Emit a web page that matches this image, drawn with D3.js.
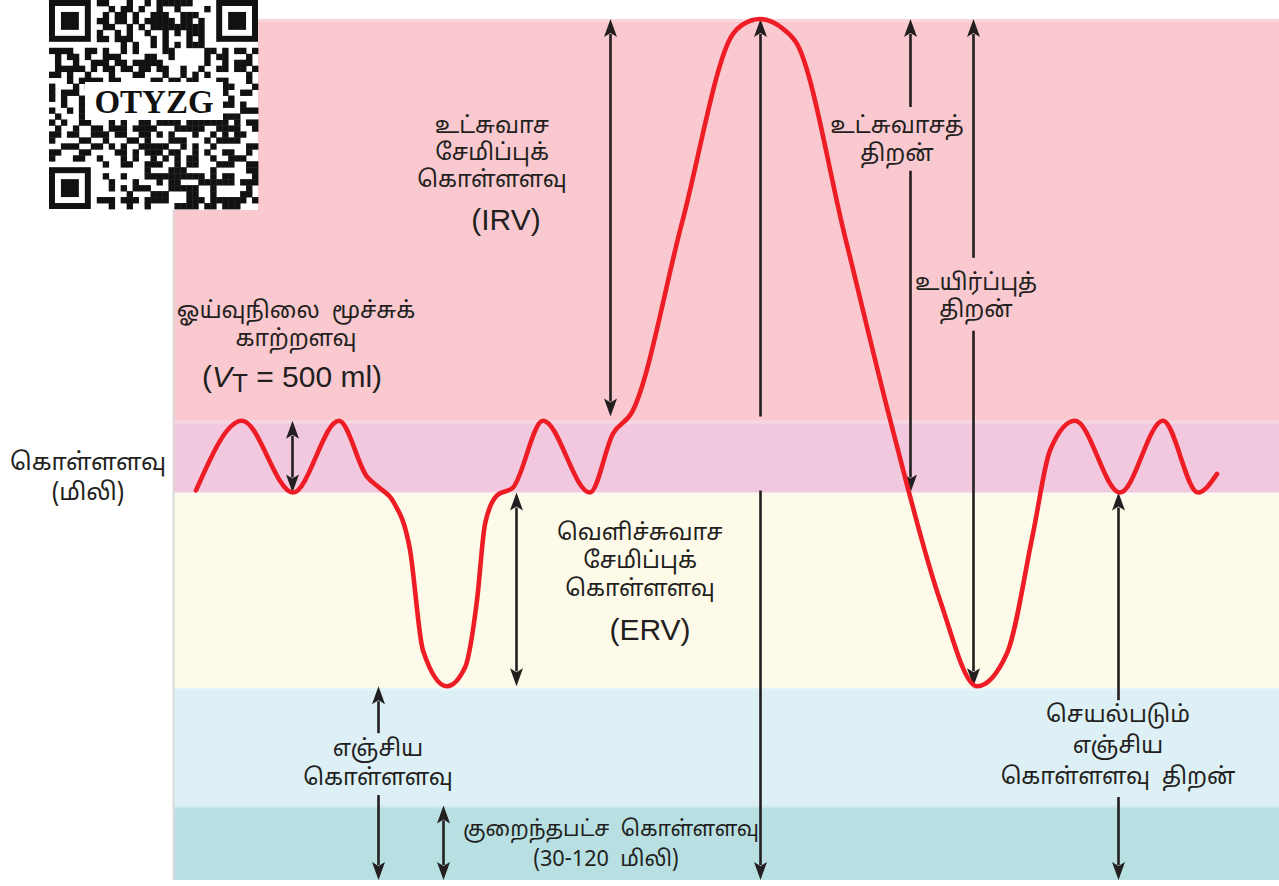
<!DOCTYPE html>
<html>
<head>
<meta charset="utf-8">
<script src="https://cdn.jsdelivr.net/npm/d3@7"></script>
<style>
  body { margin: 0; background: #fff; }
  svg { display: block; }
  text { white-space: pre; }
  .ta { font-family: "Noto Sans Tamil", "Lohit Tamil", "Noto Sans", sans-serif; fill: #231f20; }
  .la { font-family: "Liberation Sans", Arial, sans-serif; fill: #231f20; }
</style>
</head>
<body>
<svg id="chart" width="1279" height="886"></svg>
<script>
// Lung volume bands (ml), bottom to top
const bandEdges  = [0, 520, 1340, 2700, 3200, 6000];
const bandColors = ["#b8e0e3", "#dcf0f6", "#fdfaea", "#f1c8dd", "#f9c9cf"];

// Spirometer trace: time (s) and lung volume (ml)
const traceTime   = [0.46, 1.38, 2.40, 3.32, 3.88, 4.14, 4.40, 4.74, 5.00, 5.48, 5.84, 6.08, 6.24, 6.48, 6.80,
                     7.40, 8.34, 8.80, 9.18, 10.18, 11.20, 11.38, 11.74, 12.18, 12.48, 13.44, 14.40, 15.34,
                     16.08, 16.68, 17.20, 17.54, 18.04, 18.94, 19.80, 20.50, 20.88];
const traceVolume = [2715, 3200, 2700, 3200, 2810, 2730, 2640, 2300, 1600, 1350, 1480, 1950, 2480, 2680, 2735,
                     3200, 2700, 3110, 3260, 4580, 5896, 5958, 6000, 5937, 5826, 4483, 3130, 1950,
                     1350, 1580, 2415, 2993, 3200, 2700, 3200, 2700, 2830];

// Volume markers: time position, volume span, arrowheads, label gap (ml)
const arrowTime   = [2.38, 8.74, 11.74, 11.74, 14.74, 16.00, 6.86, 4.10, 5.40, 18.90];
const arrowFrom   = [2700, 3230, 3230, 2715, 2700, 1350, 1350, 0, 0, 0];
const arrowTo     = [3200, 6000, 6000, 0, 6000, 6000, 2700, 1350, 520, 2700];
const arrowHeads  = ["both", "both", "end", "end", "both", "both", "both", "both", "both", "both"];
const arrowGaps   = [null, null, null, null, [4942, 5387], [3828, 4336], null, [592, 1023], null, [578, 1253]];

// Label texts
const axisLabel   = ["கொள்ளளவு", "(மிலி)"];
const tidalLabel  = ["ஓய்வுநிலை  மூச்சுக்", "காற்றளவு"];
const irvLabel    = ["உட்சுவாச", "சேமிப்புக்", "கொள்ளளவு", "(IRV)"];
const ervLabel    = ["வெளிச்சுவாச", "சேமிப்புக்", "கொள்ளளவு", "(ERV)"];
const icLabel     = ["உட்சுவாசத்", "திறன்"];
const vcLabel     = ["உயிர்ப்புத்", "திறன்"];
const rvLabel     = ["எஞ்சிய", "கொள்ளளவு"];
const minLabel    = ["குறைந்தபட்ச  கொள்ளளவு", "(30-120  மிலி)"];
const frcLabel    = ["செயல்படும்", "எஞ்சிய", "கொள்ளளவு  திறன்"];
const codeLabel   = "OTYZG";

const svg = d3.select("#chart");
const x = d3.scaleLinear().domain([0, 22.12]).range([173, 1279]);
const y = d3.scaleLinear().domain([0, 6000]).range([880, 19]);

// Background bands
svg.append("g").selectAll("rect")
  .data(d3.range(bandColors.length))
  .join("rect")
  .attr("x", x(0)).attr("width", x(22.12) - x(0))
  .attr("y", i => y(bandEdges[i + 1]))
  .attr("height", i => y(bandEdges[i]) - y(bandEdges[i + 1]))
  .attr("fill", i => bandColors[i]);

// soft light edge at the top of each band
svg.append("g").selectAll("rect")
  .data(d3.range(bandColors.length))
  .join("rect")
  .attr("x", x(0)).attr("width", x(22.12) - x(0))
  .attr("y", i => y(bandEdges[i + 1]))
  .attr("height", 3)
  .attr("fill", "#fff").attr("opacity", 0.25);

svg.append("line")
  .attr("x1", x(0) + 0.5).attr("x2", x(0) + 0.5)
  .attr("y1", y(6000)).attr("y2", y(0))
  .attr("stroke", "#dedada").attr("stroke-width", 2);

// Arrows
const ink = "#231f20";
const headLen = 18, headHalf = 6.5, notch = 4;
const arrowG = svg.append("g");
function head(px, py, dir) {
  // dir: -1 pointing up, +1 pointing down
  const b = py - dir * headLen, n = py - dir * (headLen - notch);
  arrowG.append("path")
    .attr("d", `M${px},${py}L${px - headHalf},${b}L${px},${n}L${px + headHalf},${b}Z`)
    .attr("fill", ink);
}
function seg(px, y1, y2) {
  arrowG.append("line")
    .attr("x1", px).attr("x2", px).attr("y1", y1).attr("y2", y2)
    .attr("stroke", ink).attr("stroke-width", 2.6);
}
arrowTime.forEach((t, i) => {
  const px = Math.round(x(t)) + 0.5;
  const a = y(arrowFrom[i]), b = y(arrowTo[i]);
  const dirB = b < a ? -1 : 1;          // direction from 'from' to 'to'
  const hs = arrowHeads[i] === "both";
  const startY = hs ? a + dirB * (headLen - 3) : a;
  const endY = b - dirB * (headLen - 3);
  if (arrowGaps[i]) {
    const g0 = y(arrowGaps[i][0]), g1 = y(arrowGaps[i][1]);
    const near = dirB < 0 ? Math.max(g0, g1) : Math.min(g0, g1);
    const far = dirB < 0 ? Math.min(g0, g1) : Math.max(g0, g1);
    seg(px, startY, near);
    seg(px, far, endY);
  } else {
    seg(px, startY, endY);
  }
  if (hs) head(px, a, -dirB);
  head(px, b, dirB);
});

// Trace
const line = d3.line()
  .x(d => x(d[0])).y(d => y(d[1]))
  .curve(d3.curveMonotoneX);
svg.append("path")
  .datum(d3.zip(traceTime, traceVolume))
  .attr("d", line)
  .attr("fill", "none")
  .attr("stroke", "#ee1d25")
  .attr("stroke-width", 4.6)
  .attr("stroke-linecap", "round")
  .attr("stroke-linejoin", "round");

// Labels
const lab = svg.append("g");
function block(lines, cx, y0, dy, size, cls) {
  lines.forEach((s, i) => {
    lab.append("text").attr("class", cls || "ta")
      .attr("x", cx).attr("y", y0 + i * dy)
      .attr("text-anchor", "middle")
      .attr("font-size", size)
      .text(s);
  });
}
block(axisLabel, 88, 470, 30, 24);
block(tidalLabel, 296, 318, 28, 23);
const vt = lab.append("text").attr("class", "la").attr("x", 292).attr("y", 387)
  .attr("text-anchor", "middle").attr("font-size", 30);
vt.append("tspan").text("(");
vt.append("tspan").attr("font-style", "italic").text("V");
vt.append("tspan").attr("dy", 5).attr("font-size", 26).text("T");
vt.append("tspan").attr("dy", -5).text(" = 500 ml)");

block(irvLabel.slice(0, 3), 492, 133, 27, 23);
block(irvLabel.slice(3), 506, 230, 0, 30, "la");
block(ervLabel.slice(0, 3), 640, 540, 28, 23);
block(ervLabel.slice(3), 650, 640, 0, 30, "la");
block(icLabel, 897, 133, 28, 23);
block(vcLabel, 976, 290, 27, 23);
block(rvLabel, 378, 756, 29, 23);
block(frcLabel, 1118, 722, 31, 23);
lab.append("text").attr("class", "ta").attr("x", 611).attr("y", 836)
  .attr("text-anchor", "middle").attr("font-size", 22)
  .attr("textLength", 296).attr("lengthAdjust", "spacingAndGlyphs").text(minLabel[0]);
lab.append("text").attr("class", "ta").attr("x", 606).attr("y", 866)
  .attr("text-anchor", "middle").attr("font-size", 22)
  .attr("textLength", 146).attr("lengthAdjust", "spacingAndGlyphs").text(minLabel[1]);

// Corner code tile
const qr = svg.append("g").attr("transform", "translate(49,0)");
const N = 35, cell = 209 / N;
qr.append("rect").attr("width", 209).attr("height", 210).attr("fill", "#fff");
function isFinder(r, c) {
  const inBox = (r0, c0) => r >= r0 && r < r0 + 7 && c >= c0 && c < c0 + 7;
  return inBox(0, 0) || inBox(0, N - 7) || inBox(N - 7, 0);
}
function hashBit(r, c) {
  let h = Math.imul(r + 11, 374761393) ^ Math.imul(c + 7, 668265263);
  h = Math.imul(h ^ (h >>> 13), 1274126177);
  return ((h ^ (h >>> 16)) >>> 3) & 1;
}
const cells = [];
for (let r = 0; r < N; r++) for (let c = 0; c < N; c++) {
  if (isFinder(r, c)) continue;
  if ((r < 8 && (c < 8 || c >= N - 8)) || (r >= N - 8 && c < 8)) continue;
  if (hashBit(r, c)) cells.push([r, c]);
}
qr.append("g").selectAll("rect").data(cells).join("rect")
  .attr("x", d => d[1] * cell).attr("y", d => d[0] * cell)
  .attr("width", cell + 0.4).attr("height", cell + 0.4).attr("fill", "#111");
[[0, 0], [0, N - 7], [N - 7, 0]].forEach(([r0, c0]) => {
  const gx = c0 * cell, gy = r0 * cell;
  qr.append("rect").attr("x", gx).attr("y", gy).attr("width", 7 * cell).attr("height", 7 * cell).attr("fill", "#111");
  qr.append("rect").attr("x", gx + cell).attr("y", gy + cell).attr("width", 5 * cell).attr("height", 5 * cell).attr("fill", "#fff");
  qr.append("rect").attr("x", gx + 2 * cell).attr("y", gy + 2 * cell).attr("width", 3 * cell).attr("height", 3 * cell).attr("fill", "#111");
});
qr.append("rect").attr("x", 36).attr("y", 82).attr("width", 138).attr("height", 38).attr("fill", "#fff");
qr.append("text").attr("x", 105).attr("y", 113).attr("text-anchor", "middle")
  .attr("font-family", "Liberation Serif, Times New Roman, serif").attr("font-weight", "bold")
  .attr("font-size", 33).attr("fill", "#111").text(codeLabel);
</script>
</body>
</html>
